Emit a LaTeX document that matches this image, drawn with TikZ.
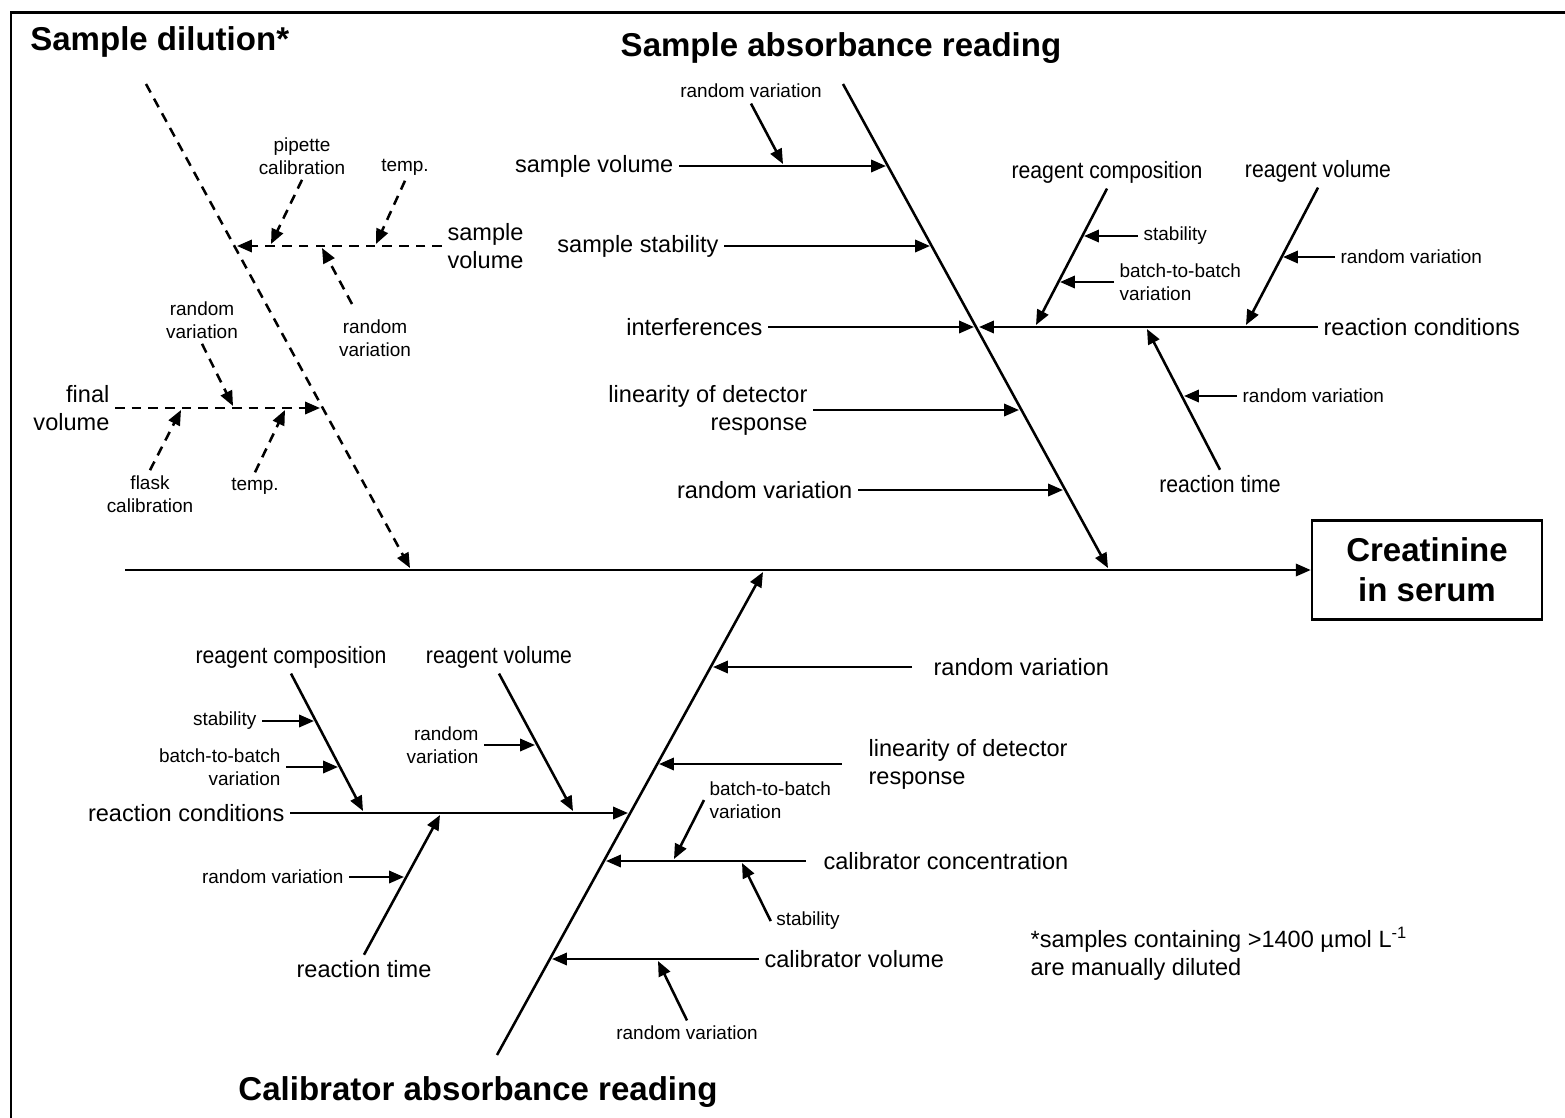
\documentclass[tikz,border=0pt]{standalone}
\usepackage{fontspec}
\setmainfont{Liberation Sans}
\newfontfamily\narrowfont[FakeStretch=0.9]{Liberation Sans}
\usetikzlibrary{arrows.meta}

\begin{document}
\begin{tikzpicture}[x=0.02cm, y=-0.02cm,
  arr/.style={line width=1.45pt, -{Triangle[length=8.5pt,width=7pt]}},
  darr/.style={arr, dash pattern=on 5.5pt off 4pt},
  head/.style={font=\bfseries\fontsize{18.8}{22.7}\selectfont, inner sep=0pt},
  cause/.style={font=\fontsize{13.4}{15.9}\selectfont, inner sep=3pt},
  narrow/.style={font=\narrowfont\fontsize{13.4}{15.9}\selectfont, inner sep=3pt},
  minor/.style={font=\fontsize{10.8}{12.8}\selectfont, inner sep=3pt}]
  % Bounding box and frame
  \useasboundingbox (0,0) rectangle (1565,1117);
  \draw[line width=1.7pt] (11,1130) -- (11,12) -- (1580,12);

  % Spine and effect
  \coordinate (tail) at (125,570);
  \node[head, draw, line width=1.45pt, minimum width=4.6cm, minimum height=1.98cm,
        align=center] (effect) at (1427,570) {Creatinine\\in serum};
  \draw[arr] (tail) -- (effect.west);

  % Main bones
  \coordinate (sdTop) at (146,84);   \coordinate (sdEnd) at (410,568);
  \coordinate (saTop) at (843,84);   \coordinate (saEnd) at (1108,568);
  \coordinate (caBot) at (497,1055); \coordinate (caEnd) at (763,572);
  \draw[darr] (sdTop) -- (sdEnd);
  \draw[arr] (saTop) -- (saEnd);
  \draw[arr] (caBot) -- (caEnd);

  % Titles
  \node[head, anchor=west] (sdTitle) at (30,42) {Sample dilution*};
  \node[head] (saTitle) at (841,48) {Sample absorbance reading};
  \node[head] (caTitle) at (478,1092) {Calibrator absorbance reading};

  % Sample dilution: sample volume
  \node[cause, anchor=west, align=left] (sdVol) at (442,246) {sample\\volume};
  \coordinate (sdVolTip) at (237,246);
  \draw[darr] (sdVol.west) -- (sdVolTip);
  \node[minor, align=center] (pipCal) at (302,156) {pipette\\calibration};
  \coordinate (pipCalTip) at (271,244);
  \draw[darr] (pipCal.south) -- (pipCalTip);
  \node[minor] (svTemp) at (405,167) {temp.};
  \coordinate (svTempTip) at (376,244);
  \draw[darr] (svTemp.south) -- (svTempTip);
  \node[minor, align=center] (svRand) at (375,338) {random\\variation};
  \coordinate (svRandTail) at (352,304);
  \coordinate (svRandTip) at (322,248);
  \draw[darr] (svRandTail) -- (svRandTip);

  % Sample dilution: final volume
  \node[cause, anchor=east, align=right] (finVol) at (115,408) {final\\volume};
  \coordinate (finVolTip) at (320,408);
  \draw[darr] (finVol.east) -- (finVolTip);
  \node[minor, align=center] (fvRand) at (202,320) {random\\variation};
  \coordinate (fvRandTip) at (233,406);
  \draw[darr] (fvRand.south) -- (fvRandTip);
  \node[minor, align=center] (flaskCal) at (150,494) {flask\\calibration};
  \coordinate (flaskCalTip) at (181,410);
  \draw[darr] (flaskCal.north) -- (flaskCalTip);
  \node[minor] (fvTemp) at (255,486) {temp.};
  \coordinate (fvTempTip) at (285,410);
  \draw[darr] (fvTemp.north) -- (fvTempTip);

  % Sample absorbance reading
  \node[cause, anchor=east] (smpVol) at (679,166) {sample volume};
  \coordinate (smpVolTip) at (886,166);
  \draw[arr] (smpVol.east) -- (smpVolTip);
  \node[minor] (smpVolRand) at (751,91) {random variation};
  \coordinate (smpVolRandTip) at (783,164);
  \draw[arr] (smpVolRand.south) -- (smpVolRandTip);
  \node[cause, anchor=east] (smpStab) at (724,246) {sample stability};
  \coordinate (smpStabTip) at (930,246);
  \draw[arr] (smpStab.east) -- (smpStabTip);
  \node[cause, anchor=east] (interf) at (768,327) {interferences};
  \coordinate (interfTip) at (974,327);
  \draw[arr] (interf.east) -- (interfTip);
  \node[cause, anchor=east, align=right] (saLin) at (813,410) {linearity of detector\\response};
  \coordinate (saLinTip) at (1019,410);
  \draw[arr] (saLin.east) -- (saLinTip);
  \node[cause, anchor=east] (saRand) at (858,490) {random variation};
  \coordinate (saRandTip) at (1063,490);
  \draw[arr] (saRand.east) -- (saRandTip);

  % Sample absorbance reading: reaction conditions
  \node[cause, anchor=west] (saCond) at (1318,327) {reaction conditions};
  \coordinate (saCondTip) at (979,327);
  \draw[arr] (saCond.west) -- (saCondTip);
  \node[narrow] (saComp) at (1107,172) {reagent composition};
  \coordinate (saCompTip) at (1036,325);
  \draw[arr] (saComp.south) -- (saCompTip);
  \node[minor, anchor=west] (saCompStab) at (1138,236) {stability};
  \coordinate (saCompStabTip) at (1084,236);
  \draw[arr] (saCompStab.west) -- (saCompStabTip);
  \node[minor, anchor=west, align=left] (saCompBatch) at (1114,282) {batch-to-batch\\variation};
  \coordinate (saCompBatchTip) at (1060,282);
  \draw[arr] (saCompBatch.west) -- (saCompBatchTip);
  \node[narrow] (saReagVol) at (1318,171) {reagent volume};
  \coordinate (saReagVolTip) at (1246,325);
  \draw[arr] (saReagVol.south) -- (saReagVolTip);
  \node[minor, anchor=west] (saReagVolRand) at (1335,257) {random variation};
  \coordinate (saReagVolRandTip) at (1283,257);
  \draw[arr] (saReagVolRand.west) -- (saReagVolRandTip);
  \node[narrow] (saTime) at (1220,484) {reaction time};
  \coordinate (saTimeTip) at (1147,329);
  \draw[arr] (saTime.north) -- (saTimeTip);
  \node[minor, anchor=west] (saTimeRand) at (1237,396) {random variation};
  \coordinate (saTimeRandTip) at (1184,396);
  \draw[arr] (saTimeRand.west) -- (saTimeRandTip);

  % Calibrator absorbance reading
  \node[cause, anchor=west] (caRand) at (928,667) {random variation};
  \coordinate (caRandTip) at (713,667);
  \draw[arr] ([xshift=-9pt]caRand.west) -- (caRandTip);
  \node[cause, anchor=west, align=left] (caLin) at (863,764) {linearity of detector\\response};
  \coordinate (caLinTip) at (659,764);
  \draw[arr] ([xshift=-12pt]caLin.west) -- (caLinTip);
  \node[cause, anchor=west] (calConc) at (818,861) {calibrator concentration};
  \coordinate (calConcTip) at (606,861);
  \draw[arr] ([xshift=-7pt]calConc.west) -- (calConcTip);
  \node[minor, anchor=west, align=left] (calConcBatch) at (704,800) {batch-to-batch\\variation};
  \coordinate (calConcBatchTip) at (674,859);
  \draw[arr] (calConcBatch.west) -- (calConcBatchTip);
  \node[minor] (calConcStab) at (808,921) {stability};
  \coordinate (calConcStabTip) at (742,863);
  \draw[arr] (calConcStab.west) -- (calConcStabTip);
  \node[cause, anchor=west] (calVol) at (759,959) {calibrator volume};
  \coordinate (calVolTip) at (552,959);
  \draw[arr] (calVol.west) -- (calVolTip);
  \node[minor] (calVolRand) at (687,1033) {random variation};
  \coordinate (calVolRandTip) at (658,961);
  \draw[arr] (calVolRand.north) -- (calVolRandTip);

  % Calibrator absorbance reading: reaction conditions
  \node[cause, anchor=east] (caCond) at (290,813) {reaction conditions};
  \coordinate (caCondTip) at (628,813);
  \draw[arr] (caCond.east) -- (caCondTip);
  \node[narrow] (caComp) at (291,657) {reagent composition};
  \coordinate (caCompTip) at (363,811);
  \draw[arr] (caComp.south) -- (caCompTip);
  \node[minor, anchor=east] (caCompStab) at (262,721) {stability};
  \coordinate (caCompStabTip) at (314,721);
  \draw[arr] (caCompStab.east) -- (caCompStabTip);
  \node[minor, anchor=east, align=right] (caCompBatch) at (286,767) {batch-to-batch\\variation};
  \coordinate (caCompBatchTip) at (338,767);
  \draw[arr] (caCompBatch.east) -- (caCompBatchTip);
  \node[narrow] (caReagVol) at (499,657) {reagent volume};
  \coordinate (caReagVolTip) at (573,811);
  \draw[arr] (caReagVol.south) -- (caReagVolTip);
  \node[minor, anchor=east, align=right] (caReagVolRand) at (484,745) {random\\variation};
  \coordinate (caReagVolRandTip) at (535,745);
  \draw[arr] (caReagVolRand.east) -- (caReagVolRandTip);
  \node[cause] (caTime) at (364,969) {reaction time};
  \coordinate (caTimeTip) at (440,815);
  \draw[arr] (caTime.north) -- (caTimeTip);
  \node[minor, anchor=east] (caTimeRand) at (349,877) {random variation};
  \coordinate (caTimeRandTip) at (404,877);
  \draw[arr] (caTimeRand.east) -- (caTimeRandTip);

  % Footnote
  \node[cause, anchor=west, align=left] (note) at (1025,954)
    {*samples containing >1400 µmol L\textsuperscript{-1}\\are manually diluted};
\end{tikzpicture}
\end{document}
